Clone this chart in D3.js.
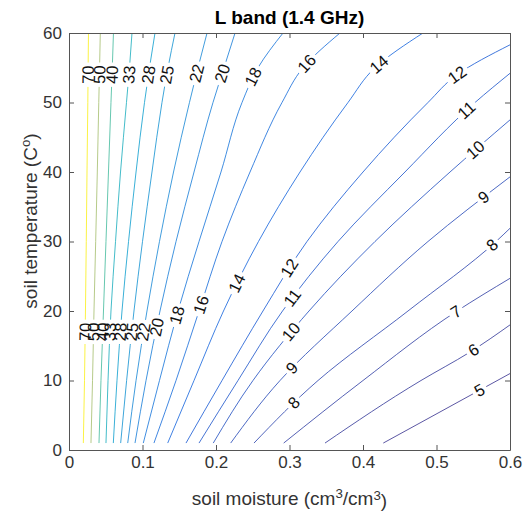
<!DOCTYPE html>
<html>
<head>
<meta charset="utf-8">
<script src="https://cdn.jsdelivr.net/npm/d3@7"></script>
<style>
  body { margin: 0; background: #fff; }
  text { font-family: "Liberation Sans", Arial, sans-serif; }
</style>
</head>
<body>
<script>
// contour levels drawn in the figure
const levels = [70, 50, 40, 33, 28, 25, 22, 20, 18, 16, 14, 12, 11, 10, 9, 8, 7, 6, 5];

// each contour as [soil moisture, soil temperature]
const lines = [
  [[0.0195,1],[0.0211,10],[0.0224,20],[0.0235,30],[0.0245,40],[0.0256,50],[0.0260,55],[0.0265,60]],
  [[0.0299,1],[0.0320,10],[0.0340,20],[0.0363,30],[0.0385,40],[0.0405,50],[0.0416,55],[0.0426,60]],
  [[0.0408,1],[0.0435,10],[0.0469,20],[0.0503,30],[0.0537,40],[0.0571,50],[0.0589,55],[0.0605,60]],
  [[0.0503,1],[0.0531,10],[0.0571,20],[0.0633,30],[0.0701,40],[0.0782,50],[0.0823,55],[0.0857,60]],
  [[0.0603,1],[0.0653,10],[0.0721,20],[0.0810,30],[0.0912,40],[0.1027,50],[0.1095,55],[0.1170,60]],
  [[0.0703,1],[0.0784,10],[0.0884,20],[0.1000,30],[0.1129,40],[0.1265,50],[0.1347,55],[0.1442,60]],
  [[0.0799,1],[0.0912,10],[0.1061,20],[0.1231,30],[0.1422,40],[0.1639,50],[0.1755,55],[0.1878,60]],
  [[0.0898,1],[0.1048,10],[0.1238,20],[0.1456,30],[0.1701,40],[0.1959,50],[0.2109,55],[0.2259,60]],
  [[0.1011,1],[0.1231,10],[0.1483,20],[0.1769,30],[0.2068,40],[0.2354,50],[0.2571,55],[0.2912,60]],
  [[0.1156,1],[0.1456,10],[0.1769,20],[0.2082,30],[0.2463,40],[0.2898,50],[0.3184,55],[0.3687,60]],
  [[0.1343,1],[0.1701,10],[0.2102,20],[0.2578,30],[0.3143,40],[0.3796,50],[0.4163,55],[0.4816,60]],
  [[0.1592,1],[0.2082,10],[0.2639,20],[0.3238,30],[0.4000,40],[0.4884,50],[0.5279,54],[0.6,58.3]],
  [[0.1769,1],[0.2299,10],[0.2905,20],[0.3660,30],[0.4571,40],[0.5524,50],[0.6,54.2]],
  [[0.1963,1],[0.2503,10],[0.3265,20],[0.4163,30],[0.5184,40],[0.6,47.5]],
  [[0.2200,1],[0.2871,10],[0.3850,20],[0.4884,30],[0.6,39.3]],
  [[0.2517,1],[0.3388,10],[0.4612,20],[0.5810,30],[0.6,31.9]],
  [[0.2921,1],[0.4000,10],[0.5279,20],[0.6,24.7]],
  [[0.3483,1],[0.4789,10],[0.5442,14],[0.6,18]],
  [[0.4276,1],[0.4966,5],[0.6,11]]
];

// temperatures where the inline labels sit on each contour
const labelTemps = [
  [17, 54], [17, 54], [17, 54], [17, 54], [17, 54], [17, 54], [17, 54.2], [17.7, 54.2],
  [19.4, 53.7], [20.9, 55.6], [24, 55.5], [26.2, 54], [21.9, 48.9], [17, 43.2],
  [11.8, 36.4], [6.8, 29.5], [19.9], [14.4], [8.6]
];

const xTicks = [0, 0.1, 0.2, 0.3, 0.4, 0.5, 0.6];
const xTickLabels = ["0", "0.1", "0.2", "0.3", "0.4", "0.5", "0.6"];
const yTicks = [0, 10, 20, 30, 40, 50, 60];

const parulaStops = ["#352a87", "#0f5cdd", "#1481d6", "#06a4ca", "#2eb7a4",
                     "#87bf77", "#d1bb59", "#fec832", "#f9fb0e"];

const W = 523, H = 511;
const tickSize = 17, labelSize = 16.5;

const x = d3.scaleLinear().domain([0, 0.6]).range([69, 510]);
const y = d3.scaleLinear().domain([0, 60]).range([450, 33]);
const color = d3.scaleSequential(d3.piecewise(d3.interpolateRgb, parulaStops)).domain([4.5, 72]);

const svg = d3.select("body").append("svg")
  .attr("width", W)
  .attr("height", H);

const defs = svg.append("defs");
defs.append("clipPath").attr("id", "plotclip")
  .append("rect")
  .attr("x", x(0)).attr("y", y(60))
  .attr("width", x(0.6) - x(0)).attr("height", y(0) - y(60));

const line = d3.line()
  .x(d => x(d[0]))
  .y(d => y(d[1]))
  .curve(d3.curveMonotoneY);

const gLines = svg.append("g").attr("clip-path", "url(#plotclip)");
const gLabels = svg.append("g");

levels.forEach(function(lv, i) {
  const path = gLines.append("path")
    .attr("d", line(lines[i]))
    .attr("fill", "none")
    .attr("stroke", color(lv))
    .attr("stroke-opacity", 0.8)
    .attr("stroke-width", 1);

  const node = path.node();
  const len = node.getTotalLength();

  // mask cuts a gap in the contour where its label goes
  const mask = defs.append("mask").attr("id", "gap" + i)
    .attr("maskUnits", "userSpaceOnUse")
    .attr("x", 0).attr("y", 0).attr("width", W).attr("height", H);
  mask.append("rect").attr("width", W).attr("height", H).attr("fill", "white");

  labelTemps[i].forEach(function(t) {
    const ty = y(t);
    let lo = 0, hi = len;
    for (let k = 0; k < 40; k++) {
      const mid = (lo + hi) / 2;
      if (node.getPointAtLength(mid).y > ty) lo = mid; else hi = mid;
    }
    const p = node.getPointAtLength(lo);
    const a = node.getPointAtLength(Math.max(0, lo - 3));
    const b = node.getPointAtLength(Math.min(len, lo + 3));
    let ang = Math.atan2(b.y - a.y, b.x - a.x) * 180 / Math.PI;
    if (ang < -90) ang += 180;
    if (ang > 90) ang -= 180;
    const tr = "translate(" + p.x + "," + p.y + ") rotate(" + ang + ")";

    const txt = gLabels.append("text")
      .attr("transform", tr)
      .attr("text-anchor", "middle")
      .attr("dy", "0.35em")
      .attr("font-size", labelSize)
      .attr("fill", "#111")
      .text(lv);
    const w = txt.node().getComputedTextLength();

    mask.append("rect")
      .attr("x", -w / 2 - 3).attr("y", -labelSize * 0.45)
      .attr("width", w + 6).attr("height", labelSize * 0.9)
      .attr("transform", tr)
      .attr("fill", "black");
  });

  path.attr("mask", "url(#gap" + i + ")");
});

// axes, ticks pointing inward like the original
const axisColor = "#333";

function styleAxis(g) {
  g.attr("font-size", tickSize).attr("font-family", null);
  g.selectAll("text").attr("fill", axisColor);
  g.selectAll("line").attr("stroke", "#555");
  g.select(".domain").attr("stroke", "#555");
}

svg.append("g")
  .attr("transform", "translate(0," + y(0) + ")")
  .call(d3.axisBottom(x).tickValues(xTicks).tickSize(-5).tickSizeOuter(0).tickPadding(6)
    .tickFormat((d, i) => xTickLabels[i]))
  .call(styleAxis);

svg.append("g")
  .attr("transform", "translate(0," + y(60) + ")")
  .call(d3.axisTop(x).tickValues(xTicks).tickSize(-5).tickSizeOuter(0).tickFormat(""))
  .call(styleAxis);

svg.append("g")
  .attr("transform", "translate(" + x(0) + ",0)")
  .call(d3.axisLeft(y).tickValues(yTicks).tickSize(-5).tickSizeOuter(0).tickPadding(7))
  .call(styleAxis);

svg.append("g")
  .attr("transform", "translate(" + x(0.6) + ",0)")
  .call(d3.axisRight(y).tickValues(yTicks).tickSize(-5).tickSizeOuter(0).tickFormat(""))
  .call(styleAxis);

// title and axis labels
svg.append("text")
  .attr("x", (x(0) + x(0.6)) / 2)
  .attr("y", 24)
  .attr("text-anchor", "middle")
  .attr("font-size", 19)
  .attr("font-weight", "bold")
  .attr("fill", "#000")
  .text("L band (1.4 GHz)");

const xl = svg.append("text")
  .attr("x", (x(0) + x(0.6)) / 2)
  .attr("y", 505)
  .attr("text-anchor", "middle")
  .attr("font-size", 19)
  .attr("fill", axisColor);
xl.append("tspan").text("soil moisture (cm");
xl.append("tspan").attr("font-size", "0.7em").attr("dy", "-0.55em").text("3");
xl.append("tspan").attr("dy", "0.385em").text("/cm");
xl.append("tspan").attr("font-size", "0.7em").attr("dy", "-0.385em").text("3");
xl.append("tspan").attr("dy", "0.385em").text(")");

const yl = svg.append("text")
  .attr("transform", "translate(37,221) rotate(-90)")
  .attr("text-anchor", "middle")
  .attr("font-size", 19)
  .attr("fill", axisColor);
yl.append("tspan").text("soil temperature (C");
yl.append("tspan").attr("font-size", "0.7em").attr("dy", "-0.55em").text("o");
yl.append("tspan").attr("dy", "0.385em").text(")");
</script>
</body>
</html>
